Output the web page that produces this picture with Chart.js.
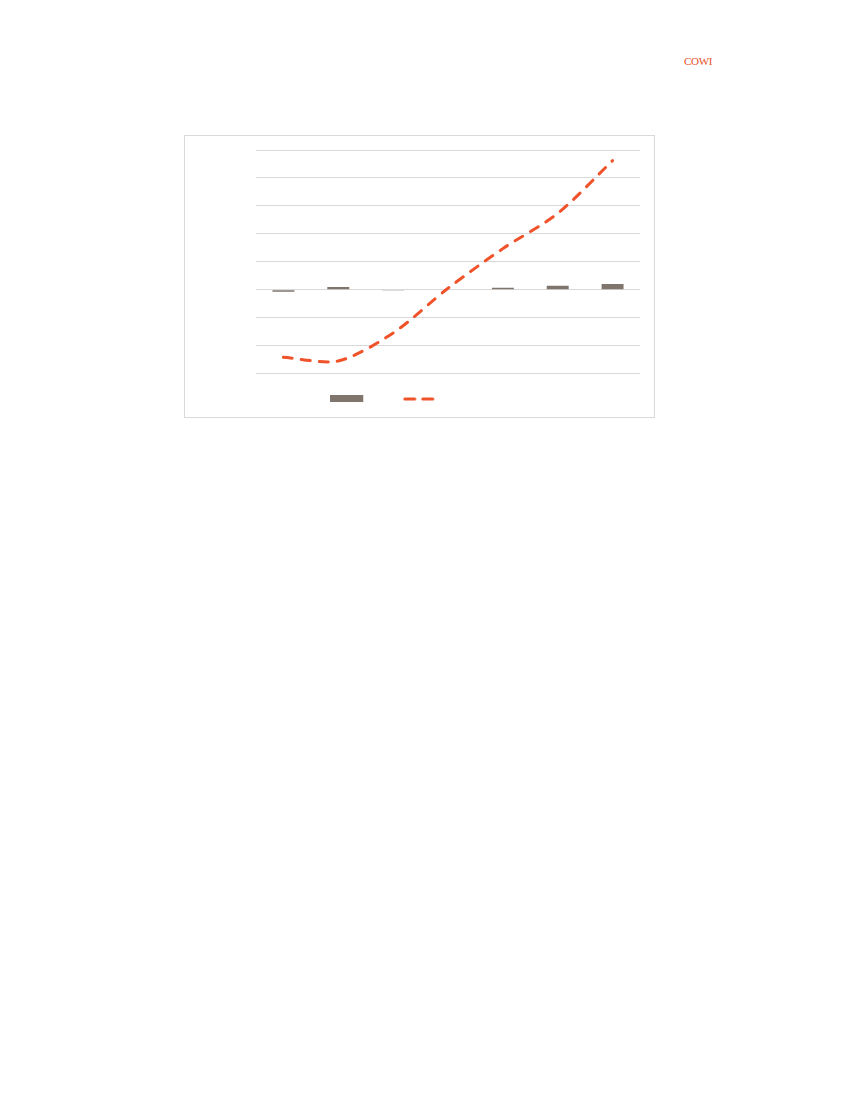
<!DOCTYPE html>
<html>
<head>
<meta charset="utf-8">
<script src="https://cdn.jsdelivr.net/npm/chart.js@4/dist/chart.umd.min.js"></script>
<style>
  body { margin: 0; background: #fff; width: 850px; height: 1100px; position: relative; }
  #logo { position: absolute; left: 684px; top: 55px; font-family: "Liberation Serif", serif; font-size: 11px; color: #e8501f; letter-spacing: -0.3px; }
  #frame { position: absolute; left: 184px; top: 135px; width: 469px; height: 281px; border: 1px solid #d9d9d9; }
  #wrap { position: absolute; left: 132px; top: 135px; width: 508px; height: 279px; }
</style>
</head>
<body>
<div id="logo">COWI</div>
<div id="frame"></div>
<div id="wrap"><canvas id="chart"></canvas></div>
<script>
var categories = ['', '', '', '', '', '', ''];
var barValues = [-0.07, 0.1, -0.03, 0, 0.07, 0.14, 0.2];
var lineValues = [-2.42, -2.55, -1.55, 0.05, 1.47, 2.73, 4.62];
var yMin = -3, yMax = 5, yStep = 1;

var barColor = '#7f756c';
var lineColor = '#f0522a';

// legend swatches
function makeSwatch(kind) {
    var c = document.createElement('canvas');
    c.width = 34; c.height = 8;
    var g = c.getContext('2d');
    if (kind === 'bar') {
        g.fillStyle = barColor;
        g.fillRect(0, 0, 33, 7);
    } else {
        g.strokeStyle = lineColor;
        g.lineWidth = 3;
        g.lineCap = 'round';
        g.setLineDash([10, 8]);
        g.beginPath();
        g.moveTo(2, 4);
        g.lineTo(33, 4);
        g.stroke();
    }
    return c;
}
var swatches = [makeSwatch('bar'), makeSwatch('line')];

new Chart(document.getElementById('chart'), {
    data: {
        labels: categories,
        datasets: [
            {
                type: 'bar',
                data: barValues,
                backgroundColor: barColor,
                barPercentage: 0.4,
                categoryPercentage: 1,
                order: 2
            },
            {
                type: 'line',
                data: lineValues,
                borderColor: lineColor,
                borderWidth: 3,
                borderDash: [9, 9],
                borderCapStyle: 'round',
                tension: 0.28,
                pointRadius: 0,
                fill: false,
                order: 1
            }
        ]
    },
    options: {
        responsive: true,
        maintainAspectRatio: false,
        animation: false,
        layout: { padding: { top: 15, left: 0, right: 0, bottom: 0 } },
        plugins: {
            tooltip: { enabled: false },
            legend: {
                position: 'bottom',
                labels: {
                    usePointStyle: true,
                    pointStyleWidth: 62,
                    padding: 5.5,
                    font: { size: 10 },
                    generateLabels: function (chart) {
                        return chart.data.datasets.map(function (ds, i) {
                            return { text: '', pointStyle: swatches[i], datasetIndex: i, hidden: false, lineWidth: 0 };
                        });
                    }
                }
            }
        },
        scales: {
            x: {
                ticks: { display: false },
                grid: { display: false },
                border: { display: false },
                afterFit: function (scale) { scale.height = 15; }
            },
            y: {
                min: yMin,
                max: yMax,
                ticks: { display: false, stepSize: yStep },
                grid: { color: '#d9d9d9', lineWidth: 1, drawTicks: false },
                border: { display: false },
                afterFit: function (scale) { scale.width = 124; }
            }
        }
    }
});
</script>
</body>
</html>
